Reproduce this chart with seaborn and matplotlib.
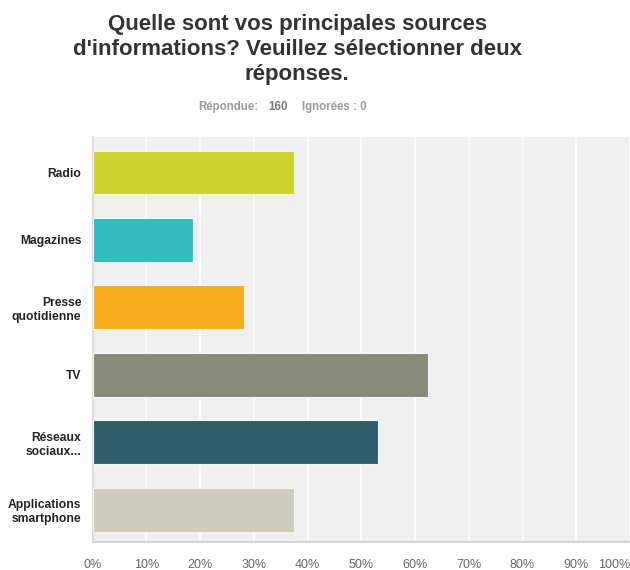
import pandas as pd
import seaborn as sns
from matplotlib import pyplot as plt

# Survey answers (share of respondents, %)
categories = ["Radio", "Magazines", "Presse\nquotidienne", "TV", "Réseaux\nsociaux...", "Applications\nsmartphone"]
values = [37.5, 18.75, 28.13, 62.5, 53.13, 37.5]
bar_colors = ["#cdd32a", "#32bdbe", "#f6ae1e", "#878a78", "#2e5d6b", "#cfcdbe"]
xtick_values = [0, 10, 20, 30, 40, 50, 60, 70, 80, 90, 100]
xtick_labels = ["0%", "10%", "20%", "30%", "40%", "50%", "60%", "70%", "80%", "90%", "100%"]

df = pd.DataFrame({"source": categories, "pct": values})

sns.set_style("white")
plt.rcParams["font.family"] = ["Liberation Sans", "DejaVu Sans"]

fig = plt.figure(figsize=(6.3, 5.7), dpi=100)
ax = fig.add_axes([0.147, 0.049, 0.853, 0.711])
ax.set_facecolor("#f0f0f0")

sns.barplot(data=df, x="pct", y="source", hue="source", palette=bar_colors,
            legend=False, orient="h", width=0.65, saturation=1, ax=ax,
            edgecolor="#f4f4f4", linewidth=0.8, zorder=3)

ax.set_xlim(0, 100)
ax.set_ylim(5.48, -0.53)
ax.set_xticks(xtick_values)
ax.set_xticklabels(xtick_labels, color="#666666", fontsize=9)
ax.get_xticklabels()[-1].set_horizontalalignment("right")
ax.tick_params(axis="x", length=0, pad=12)
ax.tick_params(axis="y", length=0, pad=8)
for lbl in ax.get_yticklabels():
    lbl.set_fontweight("bold")
    lbl.set_fontsize(8.7)
    lbl.set_color("#222222")
    lbl.set_horizontalalignment("right")
    lbl.set_multialignment("right")
ax.set_xlabel("")
ax.set_ylabel("")
ax.grid(axis="x", color="white", linewidth=1.2, zorder=0)
ax.set_axisbelow(True)
for side in ["top", "right"]:
    ax.spines[side].set_visible(False)
ax.spines["left"].set_color("#dddddd")
ax.spines["left"].set_linewidth(1.5)
ax.spines["bottom"].set_color("#d4d4d4")
ax.spines["bottom"].set_linewidth(1.5)

fig.text(0.472, 0.975, "Quelle sont vos principales sources\nd'informations? Veuillez sélectionner deux\nréponses.",
         ha="center", va="top", fontsize=16, fontweight="bold", color="#333333", linespacing=1.25)
fig.text(0.41, 0.812, "Répondue:", ha="right", va="center", fontsize=8.3, color="#999999", fontweight="bold")
fig.text(0.442, 0.812, "160", ha="center", va="center", fontsize=8.3, color="#777777", fontweight="bold")
fig.text(0.48, 0.812, "Ignorées : 0", ha="left", va="center", fontsize=8.3, color="#999999", fontweight="bold")

plt.savefig("out.png", dpi=100)
